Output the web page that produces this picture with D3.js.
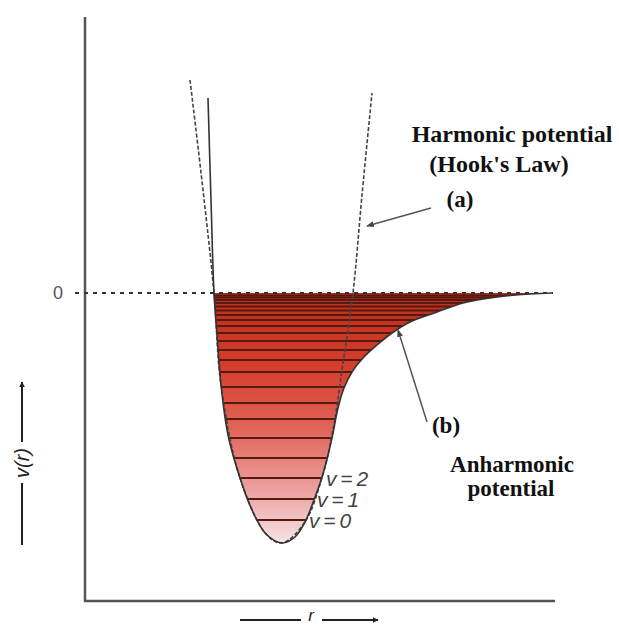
<!DOCTYPE html>
<html>
<head>
<meta charset="utf-8">
<script src="https://cdn.jsdelivr.net/npm/d3@7"></script>
<style>
  body { margin: 0; background: #fff; }
  svg { display: block; }
</style>
</head>
<body>
<div id="chart"></div>
<script>
// Morse (anharmonic) potential: r (arb. units), V (arb. units)
const morseR = [1.23, 1.26, 1.29, 1.32, 1.36, 1.43, 1.55, 1.67, 1.81, 1.97, 2.10, 2.20, 2.29, 2.38, 2.47, 2.53, 2.59, 2.67, 2.78, 2.92, 3.07, 3.25, 3.52, 3.78, 4.12, 4.45, 4.68];
const morseV = [3.90, 1.86, 0, -0.84, -1.84, -2.84, -3.70, -4.34, -4.82, -5.00, -4.88, -4.58, -4.14, -3.62, -2.90, -2.30, -1.90, -1.58, -1.30, -1.04, -0.80, -0.58, -0.38, -0.20, -0.08, -0.02, 0];

// harmonic (Hooke) parabola, dashed
const harmR = [1.05, 1.18, 1.29, 1.36, 1.55, 1.81, 1.97, 2.20, 2.38, 2.48, 2.57, 2.68, 2.77, 2.87];
const harmV = [4.26, 2.06, 0, -1.84, -3.70, -4.82, -5.00, -4.58, -3.62, -2.74, -1.54, 0, 1.96, 4.00];

// vibrational levels inside the well
const levels = [-4.54, -4.12, -3.70, -3.30, -2.90, -2.52, -2.20, -1.88, -1.58, -1.34, -1.14, -0.96, -0.80, -0.66, -0.54, -0.44, -0.35, -0.27, -0.20, -0.14, -0.09, -0.05];
const levelLabels = ["v = 0", "v = 1", "v = 2"];

const W = 619, H = 626;
const x = d3.scaleLinear().domain([0, 4.7]).range([85, 555]);
const y = d3.scaleLinear().domain([-6.16, 5.52]).range([601, 17]);

const svg = d3.select("#chart").append("svg")
  .attr("width", W)
  .attr("height", H);

const defs = svg.append("defs");

const grad = defs.append("linearGradient")
  .attr("id", "wellFill")
  .attr("gradientUnits", "userSpaceOnUse")
  .attr("x1", 0).attr("x2", 0)
  .attr("y1", y(0)).attr("y2", y(-5));
[[0, "#b92d1a"], [0.3, "#d63e2c"], [0.55, "#e2655a"], [0.8, "#eda3a3"], [1, "#f6e4e4"]]
  .forEach(s => grad.append("stop").attr("offset", s[0]).attr("stop-color", s[1]));

defs.append("marker")
  .attr("id", "head")
  .attr("viewBox", "0 0 10 10")
  .attr("refX", 9).attr("refY", 5)
  .attr("markerWidth", 5).attr("markerHeight", 5)
  .attr("orient", "auto")
  .append("path")
  .attr("d", "M0,1 L10,5 L0,9 Z")
  .attr("fill", "#444");

defs.append("marker")
  .attr("id", "axhead")
  .attr("viewBox", "0 0 10 10")
  .attr("refX", 9).attr("refY", 5)
  .attr("markerWidth", 6).attr("markerHeight", 6)
  .attr("markerUnits", "userSpaceOnUse")
  .attr("orient", "auto")
  .append("path")
  .attr("d", "M0,0 L10,5 L0,10 Z")
  .attr("fill", "#222");

const morse = morseR.map((r, i) => [r, morseV[i]]);
const harm = harmR.map((r, i) => [r, harmV[i]]);
const well = morse.filter(d => d[1] <= 0);

const line = d3.line()
  .x(d => x(d[0]))
  .y(d => y(d[1]))
  .curve(d3.curveCatmullRom.alpha(0.5));

// well area + clip
const wellPath = line(well) + "Z";
defs.append("clipPath").attr("id", "wellClip")
  .append("path").attr("d", wellPath);

svg.append("path")
  .attr("d", wellPath)
  .attr("fill", "url(#wellFill)");

svg.append("g")
  .attr("clip-path", "url(#wellClip)")
  .selectAll("line")
  .data(levels)
  .join("line")
  .attr("x1", x(1.0)).attr("x2", x(4.8))
  .attr("y1", d => y(d)).attr("y2", d => y(d))
  .attr("stroke", "#571a10")
  .attr("stroke-width", 1.8);

// axes
svg.append("path")
  .attr("d", `M${x(0)},${y(5.52)} V${y(-6.16)} H${x(4.7)}`)
  .attr("fill", "none")
  .attr("stroke", "#555")
  .attr("stroke-width", 2.5);

// zero line
svg.append("line")
  .attr("x1", x(-0.1)).attr("x2", x(4.68))
  .attr("y1", y(0)).attr("y2", y(0))
  .attr("stroke", "#333")
  .attr("stroke-width", 2)
  .attr("stroke-dasharray", "4,5");

svg.append("text")
  .attr("x", 58).attr("y", y(0) + 6)
  .attr("text-anchor", "middle")
  .style("font-family", "'Liberation Sans', Arial, sans-serif")
  .style("font-size", "18px")
  .style("fill", "#555")
  .text("0");

// harmonic curve
svg.append("path")
  .attr("d", line(harm))
  .attr("fill", "none")
  .attr("stroke", "#444")
  .attr("stroke-width", 1.6)
  .attr("stroke-dasharray", "4,2");

// morse curve
svg.append("path")
  .attr("d", line(morse))
  .attr("fill", "none")
  .attr("stroke", "#333")
  .attr("stroke-width", 1.6);

// v labels
svg.selectAll(".vlab")
  .data(levelLabels)
  .join("text")
  .attr("class", "vlab")
  .attr("x", (d, i) => [309, 317, 326][i])
  .attr("y", (d, i) => y(levels[i]) + 8)
  .style("font-family", "'Liberation Sans', Arial, sans-serif")
  .style("font-style", "italic")
  .style("font-size", "21px")
  .style("fill", "#444")
  .style("word-spacing", "-2px")
  .text(d => d);

// annotations
const serif = "'Liberation Serif', 'Times New Roman', serif";
function label(txt, cx, cy, size) {
  svg.append("text")
    .attr("x", cx).attr("y", cy)
    .attr("text-anchor", "middle")
    .style("font-family", serif)
    .style("font-weight", "bold")
    .style("font-size", size + "px")
    .style("fill", "#111")
    .text(txt);
}
label("Harmonic potential", 512, 142, 24);
label("(Hook's Law)", 499, 172, 24);
label("(a)", 460, 207, 23);
label("(b)", 446, 433, 23);
label("Anharmonic", 512, 472, 23);
label("potential", 511, 496, 23);

const arrows = [
  [[3.46, 1.70], [2.82, 1.34]],
  [[3.42, -2.58], [3.13, -0.74]]
];
svg.selectAll(".arr")
  .data(arrows)
  .join("line")
  .attr("class", "arr")
  .attr("x1", d => x(d[0][0])).attr("y1", d => y(d[0][1]))
  .attr("x2", d => x(d[1][0])).attr("y2", d => y(d[1][1]))
  .attr("stroke", "#555")
  .attr("stroke-width", 1.5)
  .attr("marker-end", "url(#head)");

// y-axis title
svg.append("line")
  .attr("x1", 22).attr("x2", 22).attr("y1", 545).attr("y2", 483)
  .attr("stroke", "#222").attr("stroke-width", 2);
svg.append("line")
  .attr("x1", 22).attr("x2", 22).attr("y1", 442).attr("y2", 382)
  .attr("stroke", "#222").attr("stroke-width", 2)
  .attr("marker-end", "url(#axhead)");
svg.append("text")
  .attr("transform", "translate(29,463) rotate(-90)")
  .attr("text-anchor", "middle")
  .style("font-family", "'Liberation Sans', Arial, sans-serif")
  .style("font-style", "italic")
  .style("font-size", "20px")
  .style("fill", "#222")
  .text("v(r)");

// x-axis title
svg.append("line")
  .attr("x1", 240).attr("x2", 301).attr("y1", 620).attr("y2", 620)
  .attr("stroke", "#222").attr("stroke-width", 2);
svg.append("line")
  .attr("x1", 322).attr("x2", 378).attr("y1", 620).attr("y2", 620)
  .attr("stroke", "#222").attr("stroke-width", 2)
  .attr("marker-end", "url(#axhead)");
svg.append("text")
  .attr("x", 311).attr("y", 621)
  .attr("text-anchor", "middle")
  .style("font-family", "'Liberation Sans', Arial, sans-serif")
  .style("font-style", "italic")
  .style("font-size", "17px")
  .style("fill", "#222")
  .text("r");
</script>
</body>
</html>
